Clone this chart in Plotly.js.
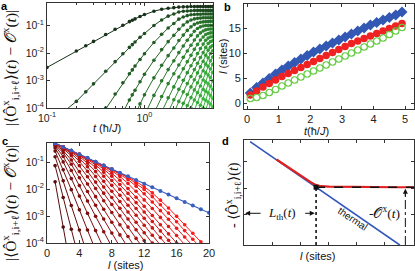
<!DOCTYPE html>
<html><head><meta charset="utf-8">
<script src="https://cdn.plot.ly/plotly-3.0.1.min.js"></script>
<style>html,body{margin:0;padding:0;background:#fff;}#plot{width:415px;height:271px;}</style>
</head><body><div id="plot"></div>
<script>
// ---- panels a & c : log10 |<O_{i,i+l}>(t) - O(t)| for l = 1,2,3,... at each time t ----
const tGrid = [0.1,0.2,0.25,0.3,0.4,0.5,0.6,0.7,0.75,0.8,0.9,1.0,1.25,1.5,1.75,2.0,2.25,2.5,2.75,3.0,3.25,3.5,3.75,4.0,4.25,4.5,4.75,5.0];
const logProfiles = [
  [-2.52,-4.63],
  [-1.92,-3.76,-5.60],
  [-1.73,-3.41,-5.09],
  [-1.57,-3.12,-4.67],
  [-1.32,-2.66,-4.00,-5.34],
  [-1.13,-2.31,-3.49,-4.67],
  [-0.98,-2.02,-3.08,-4.14],
  [-0.85,-1.79,-2.75,-3.71,-4.67],
  [-0.80,-1.69,-2.61,-3.52,-4.44],
  [-0.75,-1.59,-2.47,-3.35,-4.23],
  [-0.66,-1.42,-2.23,-3.04,-3.85,-4.66],
  [-0.59,-1.28,-2.02,-2.77,-3.52,-4.27],
  [-0.47,-0.99,-1.61,-2.26,-2.90,-3.54,-4.19],
  [-0.40,-0.79,-1.31,-1.87,-2.44,-3.01,-3.58,-4.14],
  [-0.36,-0.65,-1.08,-1.58,-2.09,-2.60,-3.11,-3.63,-4.14],
  [-0.34,-0.57,-0.92,-1.35,-1.81,-2.28,-2.75,-3.23,-3.70,-4.17],
  [-0.32,-0.50,-0.76,-1.13,-1.54,-1.98,-2.43,-2.87,-3.32,-3.76,-4.21],
  [-0.31,-0.47,-0.68,-0.97,-1.34,-1.74,-2.15,-2.57,-2.99,-3.41,-3.83,-4.25],
  [-0.31,-0.46,-0.63,-0.86,-1.17,-1.53,-1.92,-2.31,-2.71,-3.11,-3.51,-3.91,-4.31],
  [-0.30,-0.45,-0.60,-0.79,-1.04,-1.35,-1.71,-2.08,-2.46,-2.85,-3.23,-3.62,-4.00,-4.39],
  [-0.30,-0.44,-0.59,-0.75,-0.95,-1.20,-1.52,-1.86,-2.23,-2.60,-2.97,-3.34,-3.71,-4.08],
  [-0.30,-0.44,-0.58,-0.73,-0.90,-1.10,-1.37,-1.68,-2.01,-2.37,-2.72,-3.08,-3.44,-3.80,-4.16],
  [-0.30,-0.44,-0.58,-0.72,-0.87,-1.04,-1.26,-1.52,-1.83,-2.16,-2.50,-2.85,-3.20,-3.55,-3.90,-4.25],
  [-0.30,-0.44,-0.57,-0.71,-0.86,-1.01,-1.19,-1.41,-1.67,-1.98,-2.30,-2.64,-2.98,-3.32,-3.66,-4.00,-4.34],
  [-0.30,-0.44,-0.57,-0.71,-0.85,-0.99,-1.15,-1.32,-1.53,-1.79,-2.08,-2.40,-2.72,-3.05,-3.39,-3.72,-4.06],
  [-0.30,-0.44,-0.57,-0.71,-0.85,-0.99,-1.13,-1.28,-1.45,-1.65,-1.89,-2.17,-2.48,-2.80,-3.12,-3.45,-3.78,-4.11],
  [-0.30,-0.44,-0.57,-0.71,-0.84,-0.98,-1.12,-1.26,-1.41,-1.58,-1.78,-2.01,-2.28,-2.58,-2.89,-3.21,-3.54,-3.86,-4.19],
  [-0.30,-0.44,-0.57,-0.71,-0.84,-0.98,-1.12,-1.26,-1.40,-1.55,-1.72,-1.91,-2.14,-2.41,-2.70,-3.01,-3.32,-3.64,-3.96,-4.28]
];
const tCurvesC = [0.25,0.5,0.75,1.0,1.25,1.5,1.75,2.0,2.25,2.5,2.75,3.0,3.25,3.5,3.75,4.0,4.25,4.5,4.75,5.0];
const sites = [1,2,3,4,5,6,7,8,9,10,11,12,13,14,15,16,17,18,19,20];
const thermalLog = [-0.30,-0.44,-0.57,-0.71,-0.84,-0.98,-1.12,-1.25,-1.39,-1.52,-1.66,-1.80,-1.93,-2.07,-2.20,-2.34,-2.48,-2.61,-2.75,-2.88];

// ---- panel b ----
const tB = [0.1,0.3,0.5,0.7,0.9,1.1,1.3,1.5,1.7,1.9,2.1,2.3,2.5,2.7,2.9,3.1,3.3,3.5,3.7,3.9,4.1,4.3,4.5,4.7,4.9];
const lBlue  = [2.0,3.1,4.0,4.9,5.8,6.6,7.4,8.1,8.8,9.5,10.2,10.8,11.4,12.0,12.6,13.2,13.8,14.4,15.0,15.6,16.1,16.6,17.1,17.6,18.2];
const lRed   = [1.6,2.4,3.2,3.9,4.6,5.3,5.9,6.5,7.1,7.7,8.3,8.9,9.5,10.1,10.7,11.3,11.9,12.4,12.9,13.4,13.9,14.4,14.9,15.4,15.9];
const lGreen = [0.9,1.1,1.5,2.1,2.7,3.4,4.0,4.6,5.2,5.8,6.4,7.0,7.6,8.2,8.8,9.4,10.0,10.6,11.2,11.8,12.4,13.0,13.7,14.4,15.1];

// ---- panel d (schematic) ----
const dThermalX = [0.34, 9.16];
const dThermalY = [9.84, 0];
const dRedX = [1.9,2.5,3.0,3.5,3.8,4.0,4.2,4.5,5.0,6.0,7.0,8.0,9.0,10.0];
const dRedY = [8.14,7.48,6.94,6.40,6.10,5.90,5.72,5.60,5.55,5.52,5.5,5.5,5.5,5.5];
const dKneeX = 4.23, dPlateau = 5.5;

const traces = [];
// panel a
const nL = Math.max(...logProfiles.map(p => p.length));
for (let l = 1; l <= nL; l++) {
  const xs = [], ys = [];
  tGrid.forEach((t, k) => { const p = logProfiles[k]; if (p.length >= l) { xs.push(t); ys.push(Math.pow(10, p[l-1])); } });
  const fc = Math.pow(Math.min((l-1)/(nL-2),1), 0.6);
  const col = `rgb(${Math.round(24+38*fc)},${Math.round(50+150*fc)},${Math.round(26+40*fc)})`;
  traces.push({x:xs, y:ys, xaxis:'x', yaxis:'y', mode:'lines+markers', line:{color:col,width:1}, marker:{color:col,size:3.6}, hoverinfo:'skip'});
}
// panel b
traces.push({x:tB, y:lBlue, xaxis:'x2', yaxis:'y2', mode:'markers', marker:{symbol:'diamond', color:'#3358b4', size:8.5}});
traces.push({x:tB, y:lRed, xaxis:'x2', yaxis:'y2', mode:'markers', marker:{symbol:'circle', color:'#ee2222', size:7.5}});
traces.push({x:tB, y:lGreen, xaxis:'x2', yaxis:'y2', mode:'markers', marker:{symbol:'circle-open', color:'#66cc44', size:6.5, line:{width:1.2, color:'#66cc44'}}});
// panel c
tCurvesC.forEach((t, k) => {
  const p = logProfiles[tGrid.indexOf(t)];
  const f = k/(tCurvesC.length-1);
  const col = `rgb(${Math.round(85+170*f)},${Math.round(12+14*f)},${Math.round(12+14*f)})`;
  traces.push({x:sites.slice(0,p.length), y:p.map(v => Math.pow(10,v)), xaxis:'x3', yaxis:'y3', mode:'lines+markers', line:{color:col,width:1}, marker:{color:col,size:3.6}});
});
traces.push({x:sites, y:thermalLog.map(v => Math.pow(10,v)), xaxis:'x3', yaxis:'y3', mode:'lines+markers', line:{color:'#3a5fc0',width:1.2}, marker:{color:'#3a5fc0',size:4}});
// panel d
traces.push({x:dThermalX, y:dThermalY, xaxis:'x4', yaxis:'y4', mode:'lines', line:{color:'#3355bb',width:1.6}});
traces.push({x:dRedX, y:dRedY, xaxis:'x4', yaxis:'y4', mode:'lines', line:{color:'#e02020',width:2.2}});
traces.push({x:[dKneeX,10], y:[dPlateau,dPlateau], xaxis:'x4', yaxis:'y4', mode:'lines', line:{color:'#111',width:1.6,dash:'dash'}});
traces.push({x:[dKneeX,dKneeX], y:[0,dPlateau], xaxis:'x4', yaxis:'y4', mode:'lines', line:{color:'#111',width:1.6,dash:'dot'}});
traces.push({x:[9.49,9.49], y:[0,5.0], xaxis:'x4', yaxis:'y4', mode:'lines', line:{color:'#111',width:1,dash:'dashdot'}});
traces.push({x:[dKneeX], y:[dPlateau], xaxis:'x4', yaxis:'y4', mode:'markers', marker:{color:'#111',size:5,symbol:'square'}});

const ax = {showline:true, linecolor:'#333', linewidth:1, mirror:'ticks', ticks:'inside', ticklen:3, tickcolor:'#333', showgrid:false, zeroline:false, tickfont:{size:10.5, color:'#222'}};
const P = (x) => x/415, Q = (y) => 1 - y/271;
const serif = 'Liberation Serif, DejaVu Serif, serif';
const sans = 'Liberation Sans, Arial, sans-serif';
const ann = (x,y,text,o) => Object.assign({xref:'paper', yref:'paper', x:P(x), y:Q(y), text:text, showarrow:false, xanchor:'center', yanchor:'middle', font:{size:11, family:sans, color:'#111'}}, o||{});
const yTitle = '|⟨Ô<sup>x</sup><sub>i,i+ℓ</sub>⟩(<i>t</i>) − 𝒪<sup>x</sup>(<i>t</i>)|';

const layout = {
  width:415, height:271, margin:{l:0,r:0,t:0,b:0}, paper_bgcolor:'#fff', plot_bgcolor:'#fff', showlegend:false,
  font:{family:sans, size:10, color:'#222'},
  xaxis: Object.assign({}, ax, {type:'log', domain:[P(47),P(213)], range:[-1,0.703], anchor:'y', tickvals:[0.1,1], ticktext:['10<sup>-1</sup>','10<sup>0</sup>'],
          minor:{tickvals:[0.2,0.3,0.4,0.5,0.6,0.7,0.8,0.9,2,3,4,5], ticks:'inside', ticklen:2, tickcolor:'#333'}}),
  yaxis: Object.assign({}, ax, {type:'log', domain:[Q(108),Q(3)], range:[-4,-0.17], anchor:'x', tickvals:[1e-4,1e-3,1e-2,1e-1], ticktext:['10<sup>-4</sup>','10<sup>-3</sup>','10<sup>-2</sup>','10<sup>-1</sup>']}),
  xaxis2: Object.assign({}, ax, {domain:[P(244),P(414)], range:[-0.1,5.28], anchor:'y2', tickvals:[0,1,2,3,4,5], tickfont:{size:11,color:'#222'}}),
  yaxis2: Object.assign({}, ax, {domain:[Q(109),Q(4)], range:[-1.2,19.8], anchor:'x2', tickvals:[0,5,10,15], tickfont:{size:11,color:'#222'}}),
  xaxis3: Object.assign({}, ax, {domain:[P(47),P(209)], range:[0,20], anchor:'y3', tickvals:[0,4,8,12,16,20], tickfont:{size:11,color:'#222'}}),
  yaxis3: Object.assign({}, ax, {type:'log', domain:[Q(243),Q(142.5)], range:[-4,-0.27], anchor:'x3', tickvals:[1e-4,1e-3,1e-2,1e-1], ticktext:['10<sup>-4</sup>','10<sup>-3</sup>','10<sup>-2</sup>','10<sup>-1</sup>']}),
  xaxis4: Object.assign({}, ax, {domain:[P(244.3),P(414)], range:[0,10], anchor:'y4', tickvals:[1.65,3.3,4.95,6.6,8.25], showticklabels:false}),
  yaxis4: Object.assign({}, ax, {domain:[Q(245),Q(140)], range:[0,10], anchor:'x4', tickvals:[2.86,5.4,7.93], showticklabels:false}),
  annotations: [
    ann(4,6,'<b>a</b>',{font:{size:11,family:sans,color:'#000'}}),
    ann(227,7,'<b>b</b>',{font:{size:11,family:sans,color:'#000'}}),
    ann(5,141,'<b>c</b>',{font:{size:11,family:sans,color:'#000'}}),
    ann(225,141,'<b>d</b>',{font:{size:11,family:sans,color:'#000'}}),
    ann(10,68,yTitle,{textangle:-90, font:{size:15.5,family:serif,color:'#111'}}),
    ann(10,203,yTitle,{textangle:-90, font:{size:15.5,family:serif,color:'#111'}}),
    ann(233,195,'- ⟨Ô<sup>x</sup><sub>i,i+ℓ</sub>⟩(<i>t</i>)',{textangle:-90, font:{size:14,family:serif,color:'#111'}}),
    ann(107,128,'<i>t</i> (ħ/<i>J</i>)'),
    ann(316,131,'<i>t</i>(ħ/<i>J</i>)'),
    ann(223,57,'<i>l</i> (sites)',{textangle:-90}),
    ann(125,265,'<i>l</i> (sites)'),
    ann(317,256,'<i>l</i> (sites)'),
    // panel d decorations
    {xref:'x4', yref:'y4', x:2.25, y:3.02, text:'<i>L</i><sub>th</sub>(<i>t</i>)', showarrow:false, font:{size:13,family:serif,color:'#111'}},
    {xref:'x4', yref:'y4', axref:'x4', ayref:'y4', x:0.05, y:3.02, ax:1.05, ay:3.02, text:'', showarrow:true, arrowhead:2, arrowsize:1, arrowwidth:1, arrowcolor:'#111'},
    {xref:'x4', yref:'y4', axref:'x4', ayref:'y4', x:4.15, y:3.02, ax:3.5, ay:3.02, text:'', showarrow:true, arrowhead:2, arrowsize:1, arrowwidth:1, arrowcolor:'#111'},
    {xref:'x4', yref:'y4', axref:'x4', ayref:'y4', x:9.49, y:5.35, ax:9.49, ay:4.5, text:'', showarrow:true, arrowhead:2, arrowsize:1, arrowwidth:1, arrowcolor:'#111'},
    {xref:'x4', yref:'y4', x:8.25, y:3.05, text:'-𝒪<sup>x</sup>(<i>t</i>)', showarrow:false, font:{size:13.5,family:serif,color:'#111'}},
    {xref:'x4', yref:'y4', x:6.35, y:2.5, text:'thermal', textangle:34, showarrow:false, font:{size:10,family:sans,color:'#111'}}
  ]
};
Plotly.newPlot('plot', traces, layout, {staticPlot:true, displayModeBar:false});
</script></body></html>
